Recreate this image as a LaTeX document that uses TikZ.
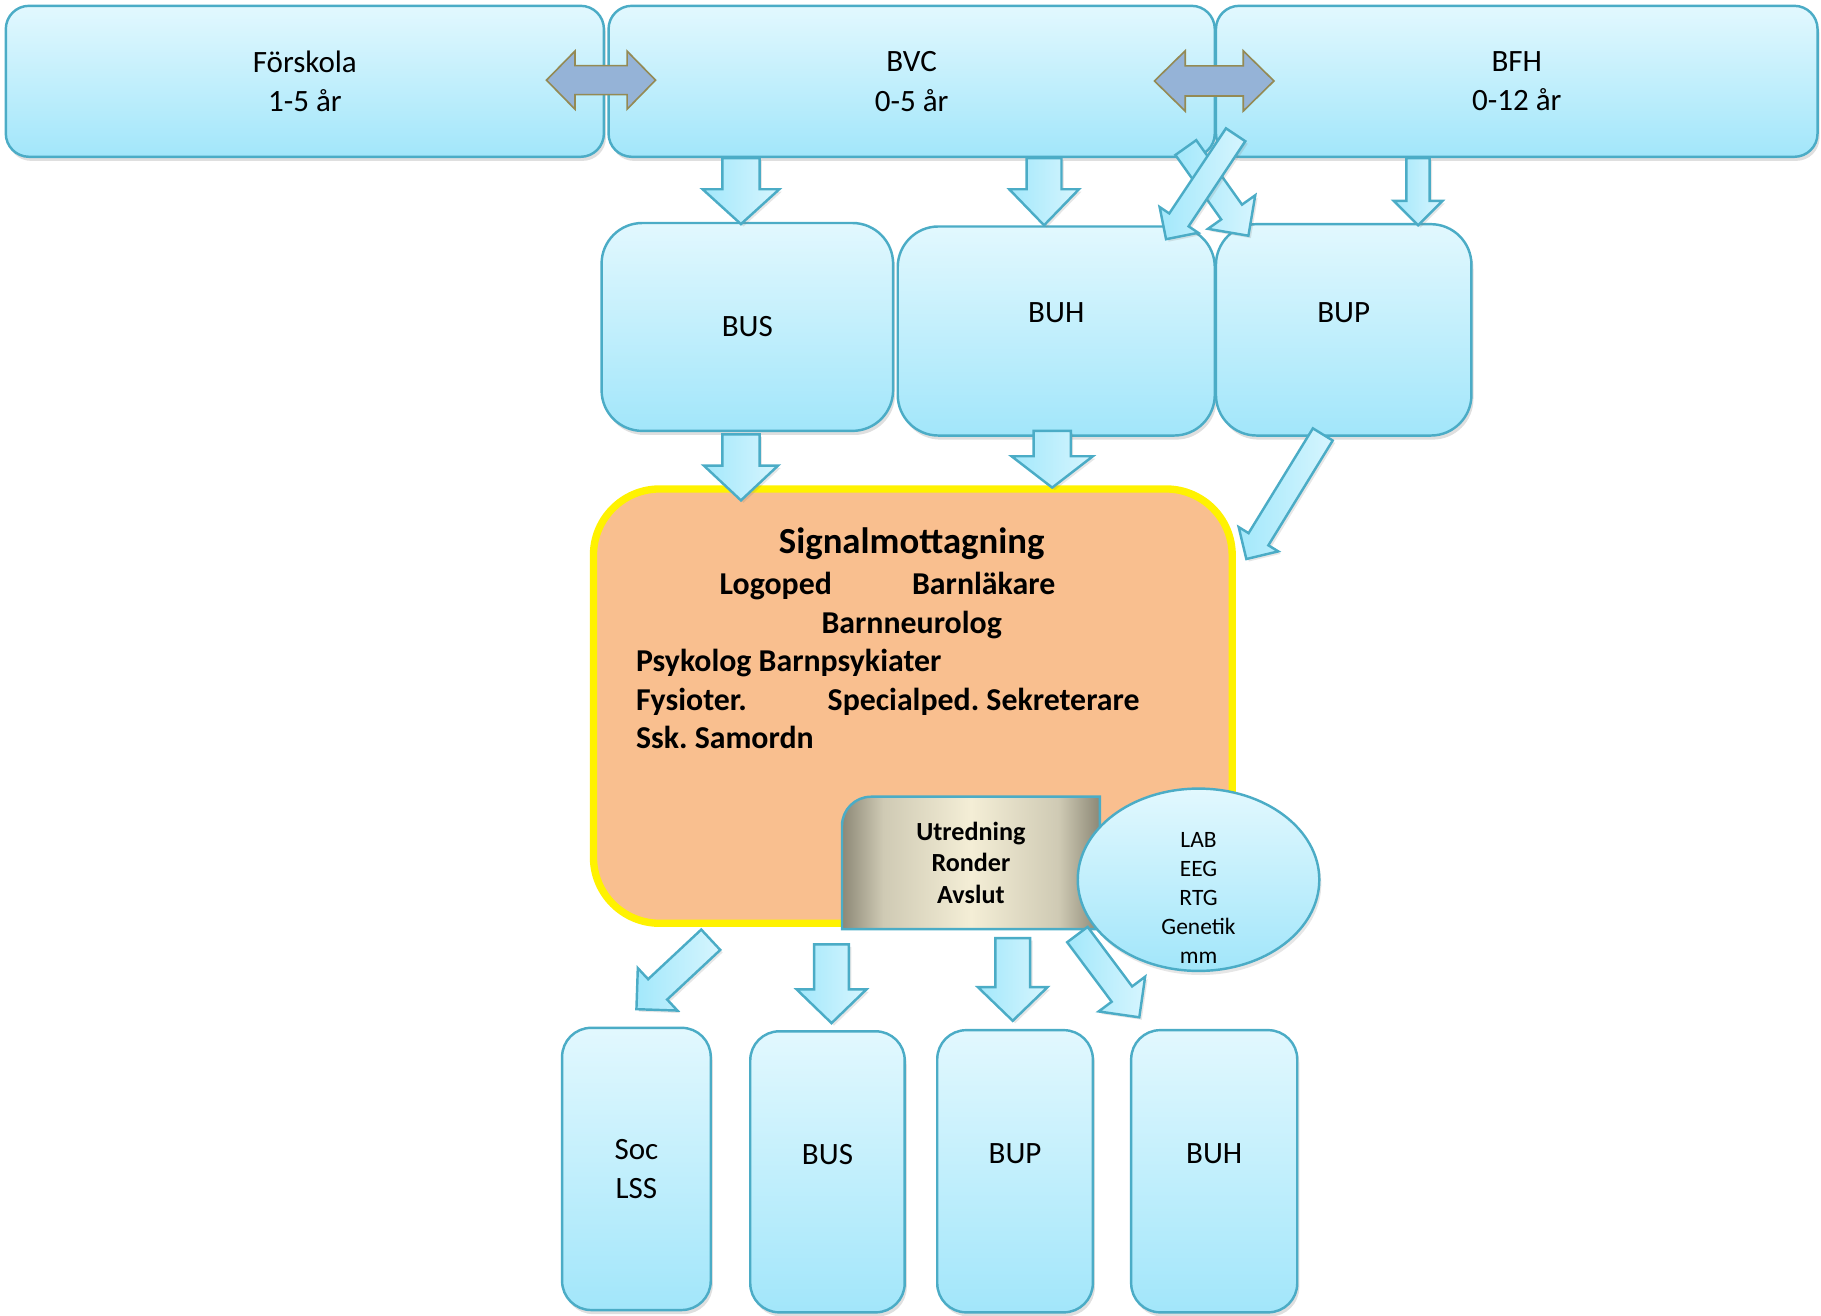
\documentclass[tikz,border=0pt]{standalone}
\usepackage{fontspec}
\setmainfont{Carlito}
\usetikzlibrary{positioning}
\usetikzlibrary{calc,shapes.geometric,shadows}
\frenchspacing

\definecolor{boxtop}{HTML}{E2F8FE}
\definecolor{boxbot}{HTML}{A2E6FA}
\definecolor{boxline}{HTML}{4BACC6}
\definecolor{arrowfill}{HTML}{A3E8FB}
\definecolor{arrowlight}{HTML}{D6F5FE}
\definecolor{dblfill}{HTML}{95B3D7}
\definecolor{dblline}{HTML}{948A54}
\definecolor{sigfill}{HTML}{F9BF8F}
\definecolor{utrin}{HTML}{F4EED6}
\definecolor{utrmid}{HTML}{CFCAB4}
\definecolor{utrout}{HTML}{8C8876}

\pgfdeclarehorizontalshading{utrshade}{100bp}{color(0bp)=(utrout); color(25bp)=(utrout); color(33bp)=(utrmid); color(50bp)=(utrin); color(67bp)=(utrmid); color(75bp)=(utrout); color(100bp)=(utrout)}

% block arrow: from, to, half shaft, half head, head length
\newcommand{\blockarrow}[5]{%
  \draw[flow] let \p1=#1, \p2=#2, \n1={atan2(\y2-\y1,\x2-\x1)} in
    ($(\p1)+(\n1+90:#3)$) -- ($(\p2)+(\n1+180:#5)+(\n1+90:#3)$)
    -- ($(\p2)+(\n1+180:#5)+(\n1+90:#4)$) -- (\p2)
    -- ($(\p2)+(\n1+180:#5)+(\n1-90:#4)$) -- ($(\p2)+(\n1+180:#5)+(\n1-90:#3)$)
    -- ($(\p1)+(\n1-90:#3)$) -- cycle;}
% two headed block arrow
\newcommand{\biarrow}[5]{%
  \draw[biflow] let \p1=#1, \p2=#2, \n1={atan2(\y2-\y1,\x2-\x1)} in
    (\p1) -- ($(\p1)+(\n1:#5)+(\n1+90:#4)$) -- ($(\p1)+(\n1:#5)+(\n1+90:#3)$)
    -- ($(\p2)+(\n1+180:#5)+(\n1+90:#3)$) -- ($(\p2)+(\n1+180:#5)+(\n1+90:#4)$)
    -- (\p2) -- ($(\p2)+(\n1+180:#5)+(\n1-90:#4)$) -- ($(\p2)+(\n1+180:#5)+(\n1-90:#3)$)
    -- ($(\p1)+(\n1:#5)+(\n1-90:#3)$) -- ($(\p1)+(\n1:#5)+(\n1-90:#4)$) -- cycle;}

\begin{document}
\begin{tikzpicture}

\tikzstyle{tbox}=[draw=boxline,line width=0.6pt,top color=boxtop,bottom color=boxbot,rounded corners=0.2cm,inner sep=0pt,align=center,font=\fontsize{7.6}{9.7}\selectfont,drop shadow={opacity=0.25,shadow xshift=0.5pt,shadow yshift=-1pt}]
\tikzstyle{mbox}=[tbox,rounded corners=0.35cm]
\tikzstyle{lbox}=[tbox,rounded corners=0.25cm]
\tikzstyle{txt}=[inner sep=0pt,align=center,font=\fontsize{7.6}{9.7}\selectfont]
\tikzstyle{staff}=[inner sep=0pt,anchor=base,font=\bfseries\fontsize{7.8}{9.4}\selectfont]
\tikzstyle{flow}=[draw=boxline,line width=0.6pt,left color=arrowfill,right color=arrowlight,drop shadow={opacity=0.2,shadow xshift=0.6pt,shadow yshift=-0.6pt}]
\tikzstyle{biflow}=[draw=dblline,line width=0.4pt,fill=dblfill]

\useasboundingbox (0,0) rectangle (15.68,-11.33);

% top row
\node (forskola) [tbox,minimum width=5.15cm,minimum height=1.30cm] at (2.625,-0.70) {Förskola\\1-5 år};
\node (bvc) [tbox,minimum width=5.22cm,minimum height=1.30cm] at (7.85,-0.70) {BVC\\0-5 år};
\node (bfh) [tbox,minimum width=5.18cm,minimum height=1.30cm] at (13.06,-0.70) {BFH\\0-12 år};

\biarrow{($(forskola.east)+(-0.505,0.01)$)}{($(bvc.west)+(0.415,0.01)$)}{0.125cm}{0.25cm}{0.245cm}
\biarrow{($(bvc.east)+(-0.53,0.003)$)}{($(bfh.west)+(0.51,0.003)$)}{0.13cm}{0.26cm}{0.265cm}

% second row
\node (bus1) [mbox,minimum width=2.51cm,minimum height=1.79cm] at (6.435,-2.815) {BUS};
\node (buh1) [mbox,minimum width=2.73cm,minimum height=1.80cm] at (9.095,-2.85) {};
\node (bup1) [mbox,minimum width=2.20cm,minimum height=1.82cm] at (11.57,-2.84) {};
\node (buh1txt) [txt] at ([yshift=0.16cm]buh1.center) {BUH};
\node (bup1txt) [txt] at ([yshift=0.15cm]bup1.center) {BUP};

\blockarrow{($(bvc.south -| bus1.north)+(-0.055,0)$)}{($(bus1.north)+(-0.055,-0.02)$)}{0.16cm}{0.33cm}{0.30cm}
\blockarrow{($(bvc.south -| buh1.north)+(-0.105,0)$)}{($(buh1.north)+(-0.105,0)$)}{0.15cm}{0.30cm}{0.31cm}
\blockarrow{($(bfh.south -| bup1.north)+(0.64,0)$)}{($(bup1.north)+(0.64,-0.02)$)}{0.10cm}{0.21cm}{0.21cm}
\blockarrow{($(bvc.south east)+(-0.26,0.09)$)}{($(bup1.north west)+(0.29,-0.11)$)}{0.11cm}{0.25cm}{0.25cm}
\blockarrow{($(bfh.south west)+(0.18,0.20)$)}{($(buh1.north east)+(-0.43,-0.12)$)}{0.10cm}{0.20cm}{0.20cm}

% signalmottagning
\node (sig) [draw=yellow,line width=1.8pt,fill=sigfill,rounded corners=0.57cm,minimum width=5.50cm,minimum height=3.74cm] at (7.86,-6.08) {};
\node (sigtitle) [inner sep=0pt,anchor=base,font=\bfseries\fontsize{9}{11}\selectfont] at (7.85,-4.77) {Signalmottagning};
\node (logoped) [staff] at (6.68,-5.115) {Logoped};
\node (barnlak) [staff] at (8.47,-5.115) {Barnläkare};
\node (barnneu) [staff] at (7.85,-5.455) {Barnneurolog};
\node (psyk) [staff,anchor=base west] at (5.47,-5.785) {Psykolog Barnpsykiater};
\node (fysio) [staff,anchor=base west] at (5.47,-6.115) {Fysioter.};
\node (spec) [staff,anchor=base west] at (7.12,-6.115) {Specialped. Sekreterare};
\node (ssk) [staff,anchor=base west] at (5.47,-6.445) {Ssk. Samordn};

\blockarrow{($(bus1.south)+(-0.055,-0.02)$)}{($(sig.north -| bus1.south)+(-0.055,-0.13)$)}{0.16cm}{0.32cm}{0.30cm}
\blockarrow{($(buh1.south)+(-0.035,0.05)$)}{($(sig.north -| buh1.south)+(-0.035,-0.02)$)}{0.16cm}{0.35cm}{0.27cm}
\blockarrow{($(bup1.south)+(-0.18,0.02)$)}{($(sig.north east)+(0.09,-0.635)$)}{0.10cm}{0.20cm}{0.20cm}

% utredning
\draw[draw=boxline,line width=0.6pt,shading=utrshade] (7.25,-8.00) -- (7.25,-7.11) arc[start angle=180,end angle=90,radius=0.25] -- (9.47,-6.86) -- (9.47,-8.00) -- cycle;
\node (utr) [inner sep=0pt,align=center,minimum width=2.22cm,minimum height=1.14cm,font=\bfseries\fontsize{6.4}{7.8}\selectfont] at (8.36,-7.43) {Utredning\\Ronder\\Avslut};

% bottom row
\node (soc) [lbox,minimum width=1.28cm,minimum height=2.43cm] at (5.48,-10.065) {Soc\\LSS};
\node (bus2) [lbox,minimum width=1.33cm,minimum height=2.42cm] at (7.125,-10.09) {};
\node (bup2) [lbox,minimum width=1.34cm,minimum height=2.43cm] at (8.74,-10.085) {};
\node (buh2) [lbox,minimum width=1.43cm,minimum height=2.43cm] at (10.455,-10.085) {};
\node (bus2txt) [txt] at ([yshift=0.15cm]bus2.center) {BUS};
\node (bup2txt) [txt] at ([yshift=0.155cm]bup2.center) {BUP};
\node (buh2txt) [txt] at ([yshift=0.155cm]buh2.center) {BUH};

\blockarrow{($(sig.south)+(-1.74,-0.11)$)}{($(soc.north)+(0,0.15)$)}{0.12cm}{0.25cm}{0.25cm}
\blockarrow{($(sig.south -| bus2.north)+(0.035,-0.15)$)}{($(bus2.north)+(0.035,0.06)$)}{0.15cm}{0.30cm}{0.29cm}
\blockarrow{($(utr.south -| bup2.north)+(-0.02,-0.07)$)}{($(bup2.north)+(-0.02,0.07)$)}{0.15cm}{0.30cm}{0.29cm}
\blockarrow{($(utr.south east)+(-0.20,-0.04)$)}{($(buh2.north)+(-0.645,0.10)$)}{0.11cm}{0.25cm}{0.25cm}

% lab etc
\node (lab) [ellipse,draw=boxline,line width=0.6pt,top color=boxtop,bottom color=boxbot,minimum width=2.08cm,minimum height=1.57cm,inner sep=0pt,drop shadow={opacity=0.2,shadow xshift=0.5pt,shadow yshift=-1pt}] at (10.32,-7.575) {};
\node (labtxt) [inner sep=0pt,align=center,font=\fontsize{5.75}{7.1}\selectfont] at ([yshift=-0.155cm]lab.center) {LAB\\EEG\\RTG\\Genetik\\mm};

\end{tikzpicture}
\end{document}
